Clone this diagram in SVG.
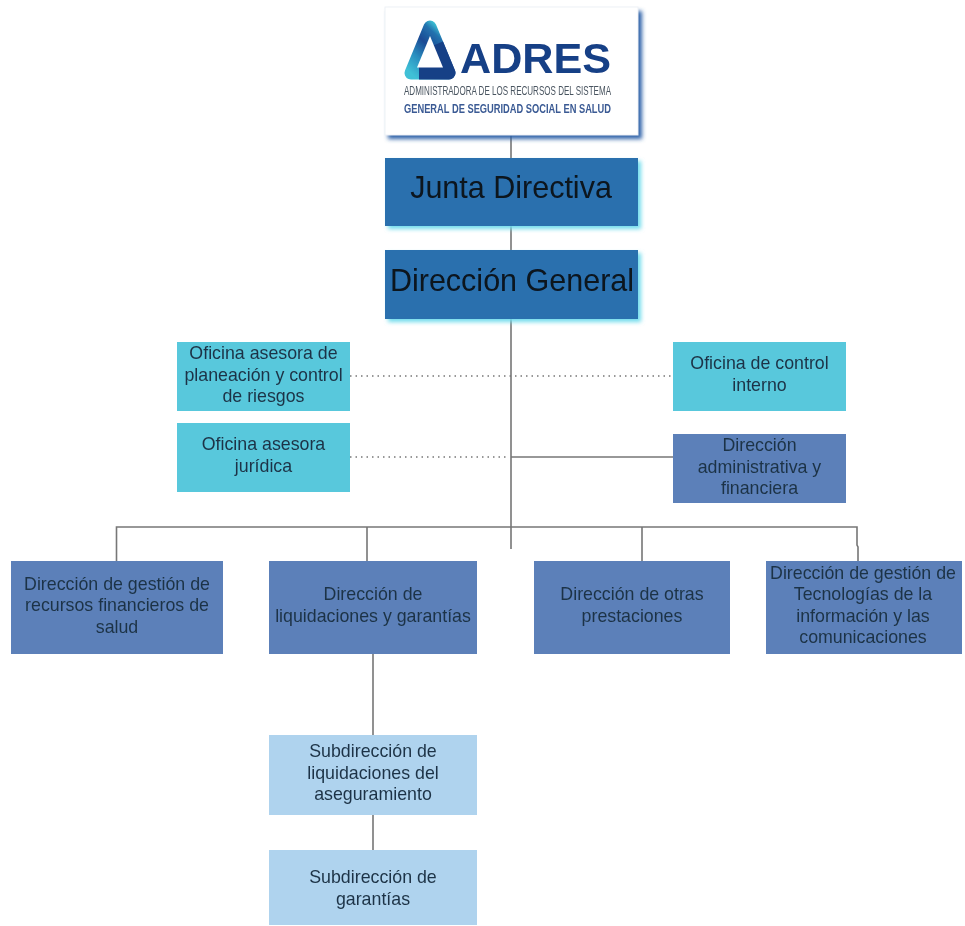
<svg xmlns="http://www.w3.org/2000/svg" width="965" height="926" viewBox="0 0 965 926">
<style>
.t{font-family:"Liberation Sans",Arial,sans-serif;font-size:17.8px;fill:#1d3346;text-anchor:middle}
.big{font-size:30.5px;fill:#08131f}
.cy{fill:#58c8dc}.bl{fill:#5c80b9}.lt{fill:#afd3ee}.dk{fill:#2a70ae}
.ln{fill:none;stroke:#777;stroke-width:1.6}
.dot{fill:none;stroke:#777;stroke-width:1.3;stroke-dasharray:1.5 4}
</style>
<defs>
<filter id="soft" x="-2%" y="-2%" width="104%" height="104%"><feGaussianBlur stdDeviation="0.5"/></filter>
<filter id="sh" x="-10%" y="-20%" width="120%" height="140%"><feGaussianBlur stdDeviation="2"/></filter>
<linearGradient id="tri" x1="0" y1="1" x2="0.75" y2="0"><stop offset="0" stop-color="#3fc0d6"/><stop offset="0.3" stop-color="#2a8fc0"/><stop offset="0.6" stop-color="#1b4a94"/><stop offset="0.85" stop-color="#2272ae"/><stop offset="1" stop-color="#3ec3d5"/></linearGradient>
</defs>
<g filter="url(#soft)">
<g id="connectors">
<path class="ln" d="M511 135V549M116.500 561V527H857V545L858 547V561M367 527V561M642 527V561M511 457H673M373 654V735M373 815V850"/>
<path class="dot" d="M350 376H673M350 457H509"/>
</g>
<g id="logo">
<rect x="388" y="11" width="254" height="128" fill="#2f62a8" filter="url(#sh)"/>
<rect x="385" y="7" width="253" height="128" fill="#fff" stroke="#eef1f6"/>
<path d="M430 27L411 73H449Z" fill="url(#tri)" stroke="url(#tri)" stroke-width="13" stroke-linejoin="round"/>
<path d="M419 73H449L437 44" fill="none" stroke="#183f86" stroke-width="13" stroke-linejoin="round"/>
<path d="M430 36L417 67.500H443Z" fill="#fff"/>
<text x="460" y="73" font-family="Liberation Sans,Arial,sans-serif" font-weight="700" font-size="42" fill="#183f86" textLength="151" lengthAdjust="spacingAndGlyphs">ADRES</text>
<text x="404" y="95" font-family="Liberation Sans,Arial,sans-serif" font-size="13" fill="#4a5560" textLength="207" lengthAdjust="spacingAndGlyphs">ADMINISTRADORA DE LOS RECURSOS DEL SISTEMA</text>
<text x="404" y="113" font-family="Liberation Sans,Arial,sans-serif" font-weight="700" font-size="13" fill="#3a5a94" textLength="207" lengthAdjust="spacingAndGlyphs">GENERAL DE SEGURIDAD SOCIAL EN SALUD</text>
</g>
<g id="junta">
<rect x="388" y="161" width="253" height="68" fill="#6fdcec" filter="url(#sh)"/>
<rect class="dk" x="385" y="158" width="253" height="68"/>
<text class="t big" x="511" y="198">Junta Directiva</text>
</g>
<g id="direccion-general">
<rect x="388" y="253" width="253" height="69" fill="#6fdcec" filter="url(#sh)"/>
<rect class="dk" x="385" y="250" width="253" height="69"/>
<text class="t big" x="512" y="291">Dirección General</text>
</g>
<g id="oficina-planeacion">
<rect class="cy" x="177" y="342" width="173" height="69"/>
<text class="t" x="263.500" y="359">Oficina asesora de</text>
<text class="t" x="263.500" y="381">planeación y control</text>
<text class="t" x="263.500" y="402">de riesgos</text>
</g>
<g id="oficina-juridica">
<rect class="cy" x="177" y="423" width="173" height="69"/>
<text class="t" x="263.500" y="450">Oficina asesora</text>
<text class="t" x="263.500" y="472">jurídica</text>
</g>
<g id="oficina-control">
<rect class="cy" x="673" y="342" width="173" height="69"/>
<text class="t" x="759.500" y="369">Oficina de control</text>
<text class="t" x="759.500" y="391">interno</text>
</g>
<g id="direccion-administrativa">
<rect class="bl" x="673" y="434" width="173" height="69"/>
<text class="t" x="759.500" y="451">Dirección</text>
<text class="t" x="759.500" y="473">administrativa y</text>
<text class="t" x="759.500" y="494">financiera</text>
</g>
<g id="direccion-recursos">
<rect class="bl" x="11" y="561" width="212" height="93"/>
<text class="t" x="117" y="590">Dirección de gestión de</text>
<text class="t" x="117" y="611">recursos financieros de</text>
<text class="t" x="117" y="633">salud</text>
</g>
<g id="direccion-liquidaciones">
<rect class="bl" x="269" y="561" width="208" height="93"/>
<text class="t" x="373" y="600">Dirección de</text>
<text class="t" x="373" y="622">liquidaciones y garantías</text>
</g>
<g id="direccion-prestaciones">
<rect class="bl" x="534" y="561" width="196" height="93"/>
<text class="t" x="632" y="600">Dirección de otras</text>
<text class="t" x="632" y="622">prestaciones</text>
</g>
<g id="direccion-tecnologias">
<rect class="bl" x="766" y="561" width="196" height="93"/>
<text class="t" x="863" y="579">Dirección de gestión de</text>
<text class="t" x="863" y="600">Tecnologías de la</text>
<text class="t" x="863" y="622">información y las</text>
<text class="t" x="863" y="643">comunicaciones</text>
</g>
<g id="subdireccion-liquidaciones">
<rect class="lt" x="269" y="735" width="208" height="80"/>
<text class="t" x="373" y="757">Subdirección de</text>
<text class="t" x="373" y="779">liquidaciones del</text>
<text class="t" x="373" y="800">aseguramiento</text>
</g>
<g id="subdireccion-garantias">
<rect class="lt" x="269" y="850" width="208" height="75"/>
<text class="t" x="373" y="883">Subdirección de</text>
<text class="t" x="373" y="905">garantías</text>
</g>
</g>
</svg>
